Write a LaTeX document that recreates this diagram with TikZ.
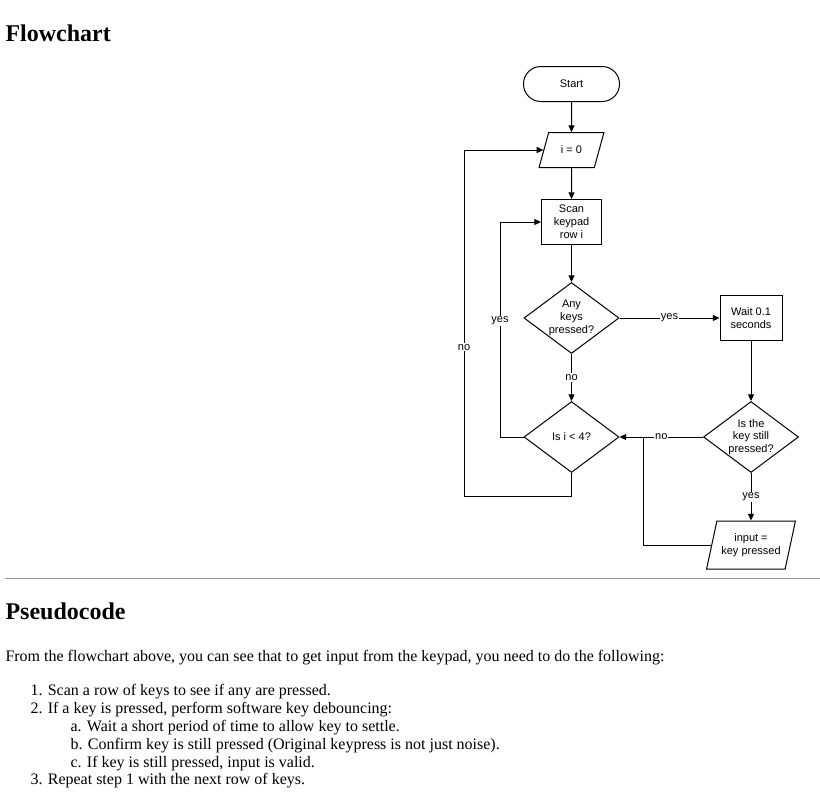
\documentclass[tikz,border=0pt]{standalone}
\usepackage{fontspec}
\setmainfont{Liberation Serif}
\newfontfamily\chartfont{Liberation Sans}
\usetikzlibrary{shapes.geometric, arrows.meta, positioning}

\begin{document}
\begin{tikzpicture}[
    x=0.75pt, y=-0.75pt,
    line width=0.75pt,
    chart/.style={font=\chartfont\fontsize{8.25}{9.6}\selectfont, align=center},
    terminal/.style={chart, rectangle, draw, rounded corners=13pt, minimum width=72pt, minimum height=26.25pt},
    io/.style={chart, trapezium, draw, trapezium stretches=true, trapezium left angle=65, trapezium right angle=115, inner sep=1pt},
    process/.style={chart, rectangle, draw, inner sep=1pt},
    decision/.style={chart, diamond, draw, aspect=1.34, inner sep=0pt, minimum width=71.25pt, minimum height=53.25pt},
    lbl/.style={chart, fill=white, inner sep=0.8pt},
    arrow/.style={-{Triangle[length=5pt,width=4.5pt]}},
    heading/.style={anchor=base west, inner sep=0pt, font=\fontsize{18}{22}\selectfont\bfseries},
    body/.style={anchor=base west, inner sep=0pt, font=\fontsize{12}{14}\selectfont}
]
\useasboundingbox (0,0) rectangle (820,803);

% Headings and rule
\node[heading] (title) at (5,41) {Flowchart};
\draw[gray!80, line width=1pt] (5,578.5) -- (820,578.5);
\node[heading] (pseudo) at (5,619) {Pseudocode};

% Pseudocode text
\node[body] (intro) at (5,661) {From the flowchart above, you can see that to get input from the keypad, you need to do the following:};
\node[body] (item1) at (30,695) {1. Scan a row of keys to see if any are pressed.};
\node[body] (item2) at (30,713) {2. If a key is pressed, perform software key debouncing:};
\node[body] (item2a) at (70,731) {a. Wait a short period of time to allow key to settle.};
\node[body] (item2b) at (70,749) {b. Confirm key is still pressed (Original keypress is not just noise).};
\node[body] (item2c) at (70,767) {c. If key is still pressed, input is valid.};
\node[body] (item3) at (30,784) {3. Repeat step 1 with the next row of keys.};

% Main column
\node[terminal] (start) at (571.5,84) {Start};
\node[io, minimum width=48.75pt, minimum height=26.25pt] (init) at (571.5,150) {i = 0};
\node[process, minimum width=45pt, minimum height=33.75pt] (scan) at (571.5,222) {Scan\\keypad\\row i};
\node[decision] (anykey) at (571.5,318) {Any\\keys\\pressed?};
\node[decision] (iless) at (571.5,437) {Is i < 4?};

% Right column
\node[process, minimum width=46.5pt, minimum height=33.75pt] (wait) at (751,318) {Wait 0.1\\seconds};
\node[decision] (still) at (751,437) {Is the\\key still\\pressed?};
\node[io, trapezium left angle=70, trapezium right angle=110, minimum width=66.75pt, minimum height=36pt] (input) at (751,545) {input =\\key pressed};

% Helper points for the loops
\coordinate (yesback) at (500,437);
\coordinate (noback) at (464,496);
\coordinate (join) at (643,437);

% Straight arrows
\draw[arrow] (start) -- (init);
\draw[arrow] (init) -- (scan);
\draw[arrow] (scan) -- (anykey);
\draw[arrow] (anykey) -- node[lbl] {yes} (wait);
\draw[arrow] (anykey) -- node[lbl] {no} (iless);
\draw[arrow] (wait) -- (still);
\draw[arrow] (still) -- node[lbl] {yes} (input);
\draw[arrow] (still) -- node[lbl] {no} (iless);

% Loops back
\draw[arrow] (iless.west) -- (yesback) |- node[lbl, pos=0.27] {yes} (scan.west);
\draw[arrow] (iless.south) |- (noback) |- node[lbl, pos=0.215] {no} (init.west);
\draw (input.west) -| (join);
\end{tikzpicture}
\end{document}
